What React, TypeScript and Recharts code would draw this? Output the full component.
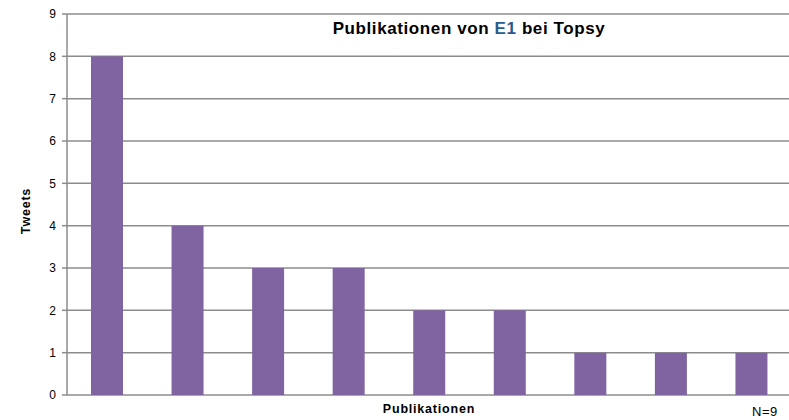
import React from "react";
import { BarChart, Bar, XAxis, YAxis, CartesianGrid } from "recharts";

const categories = ["P1", "P2", "P3", "P4", "P5", "P6", "P7", "P8", "P9"];
const tweets = [8, 4, 3, 3, 2, 2, 1, 1, 1];
const yTicks = [0, 1, 2, 3, 4, 5, 6, 7, 8, 9];

const data = categories.map((c, i) => ({ name: c, tweets: tweets[i] }));

const FONT = "'Liberation Sans', Arial, sans-serif";

export default function App() {
  return (
    <div style={{ position: "absolute", left: 0, top: 0, width: 789, height: 420, overflow: "hidden", background: "#fff", fontFamily: FONT }}>
      <BarChart
        width={800}
        height={420}
        data={data}
        margin={{ top: 14, right: 8, bottom: 25, left: 0 }}
      >
        <CartesianGrid vertical={false} stroke="#8c8c8c" strokeWidth={1.5} />
        <XAxis
          dataKey="name"
          tick={false}
          tickLine={false}
          height={0}
          axisLine={{ stroke: "#8c8c8c", strokeWidth: 1.5 }}
        />
        <YAxis
          domain={[0, 9]}
          ticks={yTicks}
          interval={0}
          width={67}
          tickSize={5}
          tickLine={{ stroke: "#8c8c8c", strokeWidth: 1.5 }}
          axisLine={{ stroke: "#8c8c8c", strokeWidth: 1.5 }}
          tick={{ fill: "#000", fontSize: 12, fontFamily: FONT }}
          tickMargin={6}
        />
        <Bar dataKey="tweets" fill="#8064a2" barSize={32} isAnimationActive={false} />
      </BarChart>
      <div style={{ position: "absolute", left: 269, width: 400, top: 20, textAlign: "center", fontWeight: "bold", fontSize: 17, letterSpacing: 0.6, color: "#000", lineHeight: "17px", whiteSpace: "nowrap" }}>
        Publikationen von <span style={{ color: "#2a5a8c" }}>E1</span> bei Topsy
      </div>
      <div style={{ position: "absolute", left: 26, top: 211, width: 0, height: 0 }}>
        <div style={{ position: "absolute", transform: "translate(-50%, -50%) rotate(-90deg)", fontWeight: "bold", fontSize: 12.5, letterSpacing: 0.8, whiteSpace: "nowrap", color: "#000", lineHeight: "14px" }}>
          Tweets
        </div>
      </div>
      <div style={{ position: "absolute", left: 329, width: 200, top: 402, textAlign: "center", fontWeight: "bold", fontSize: 12.5, letterSpacing: 0.8, color: "#000", lineHeight: "14px" }}>
        Publikationen
      </div>
      <div style={{ position: "absolute", left: 752, top: 405, fontSize: 13, letterSpacing: 0.5, color: "#000", lineHeight: "13px", whiteSpace: "nowrap" }}>
        N=9
      </div>
    </div>
  );
}
